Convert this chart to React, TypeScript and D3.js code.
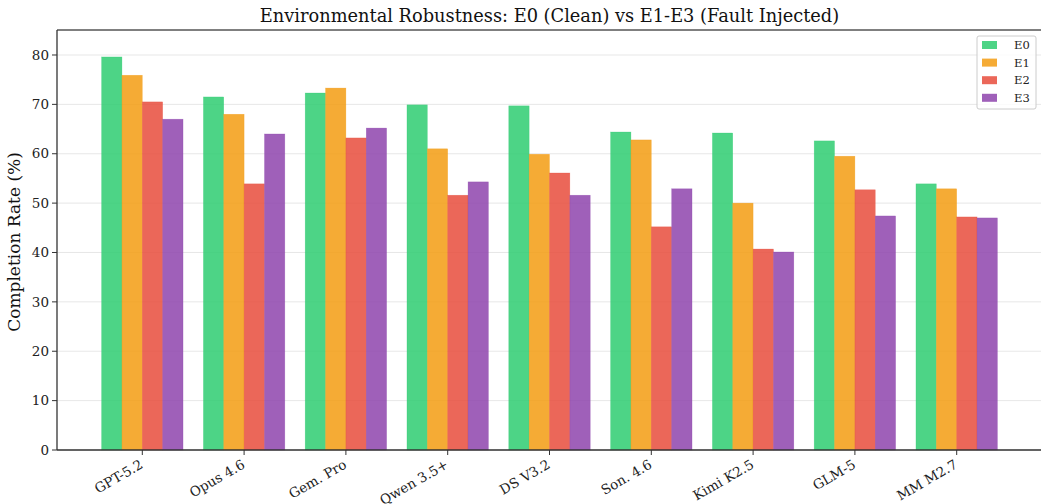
import React, { useEffect, useRef } from 'react';
import * as d3 from 'd3';

const models = ['GPT-5.2', 'Opus 4.6', 'Gem. Pro', 'Qwen 3.5+', 'DS V3.2', 'Son. 4.6', 'Kimi K2.5', 'GLM-5', 'MM M2.7'];
const seriesNames = ['E0', 'E1', 'E2', 'E3'];
const e0 = [79.6, 71.5, 72.3, 69.9, 69.7, 64.4, 64.2, 62.6, 53.9];
const e1 = [75.9, 68.0, 73.3, 61.0, 59.9, 62.8, 50.0, 59.5, 52.9];
const e2 = [70.5, 53.9, 63.2, 51.6, 56.1, 45.2, 40.7, 52.7, 47.2];
const e3 = [67.0, 64.0, 65.2, 54.3, 51.6, 52.9, 40.1, 47.4, 47.0];
const colors = ['#2ecc71', '#f39c12', '#e74c3c', '#8e44ad'];
const yTicks = [0, 10, 20, 30, 40, 50, 60, 70, 80];

const W = 1041;
const H = 504;

const App = () => {
  const svgRef = useRef(null);

  useEffect(() => {
    const svg = d3.select(svgRef.current);
    svg.selectAll('*').remove();

    const font = "'DejaVu Serif', serif";
    const left = 57, right = 1042, top = 30, bottom = 450;
    const series = [e0, e1, e2, e3];

    // index-based x scale, like matplotlib's bar positions
    const x = d3.scaleLinear().domain([-0.838, models.length - 1 + 0.838]).range([left, right]);
    const y = d3.scaleLinear().domain([0, 85.06]).range([bottom, top]);
    const bw = 0.2;

    // grid
    svg.append('g')
      .selectAll('line')
      .data(yTicks)
      .enter()
      .append('line')
      .attr('x1', left).attr('x2', right)
      .attr('y1', d => y(d)).attr('y2', d => y(d))
      .attr('stroke', '#b0b0b0')
      .attr('stroke-opacity', 0.3)
      .attr('stroke-width', 1);

    // bars
    series.forEach((vals, s) => {
      svg.append('g')
        .selectAll('rect')
        .data(vals)
        .enter()
        .append('rect')
        .attr('x', (d, i) => x(i + (s - 1.5) * bw - bw / 2))
        .attr('y', d => y(d))
        .attr('width', x(bw) - x(0))
        .attr('height', d => bottom - y(d))
        .attr('fill', colors[s])
        .attr('fill-opacity', 0.85)
        .attr('stroke', colors[s])
        .attr('stroke-opacity', 0.5)
        .attr('stroke-width', 0.5);
    });

    // spines
    svg.append('line').attr('x1', left).attr('x2', right).attr('y1', top).attr('y2', top)
      .attr('stroke', '#000').attr('stroke-width', 1);
    svg.append('line').attr('x1', left).attr('x2', left).attr('y1', top).attr('y2', bottom)
      .attr('stroke', '#333').attr('stroke-width', 1.3);
    svg.append('line').attr('x1', left).attr('x2', right).attr('y1', bottom).attr('y2', bottom)
      .attr('stroke', '#333').attr('stroke-width', 1.3);

    // y axis
    const yAxis = svg.append('g');
    yTicks.forEach(t => {
      yAxis.append('line').attr('x1', left - 5).attr('x2', left).attr('y1', y(t)).attr('y2', y(t))
        .attr('stroke', '#333').attr('stroke-width', 1);
      yAxis.append('text')
        .attr('x', left - 8).attr('y', y(t))
        .attr('dy', '0.35em')
        .attr('text-anchor', 'end')
        .attr('font-family', font).attr('font-size', 13.5)
        .attr('fill', '#222')
        .text(t);
    });

    // x axis, labels rotated 30deg and right-aligned on the tick
    const xAxis = svg.append('g');
    models.forEach((m, i) => {
      xAxis.append('line').attr('x1', x(i)).attr('x2', x(i)).attr('y1', bottom).attr('y2', bottom + 5)
        .attr('stroke', '#333').attr('stroke-width', 1);
      xAxis.append('text')
        .attr('transform', `translate(${x(i) - 3},${bottom + 9}) rotate(-30)`)
        .attr('text-anchor', 'end')
        .attr('dy', '0.7em')
        .attr('font-family', font).attr('font-size', 13.5)
        .attr('fill', '#222')
        .text(m);
    });

    // labels
    svg.append('text')
      .attr('transform', `translate(20,${(top + bottom) / 2 + 2}) rotate(-90)`)
      .attr('text-anchor', 'middle')
      .attr('font-family', font).attr('font-size', 17)
      .attr('fill', '#111')
      .text('Completion Rate (%)');

    svg.append('text')
      .attr('x', (left + right) / 2).attr('y', 22)
      .attr('text-anchor', 'middle')
      .attr('font-family', font).attr('font-size', 17.8)
      .attr('fill', '#111')
      .text('Environmental Robustness: E0 (Clean) vs E1-E3 (Fault Injected)');

    // legend
    const lg = svg.append('g').attr('transform', 'translate(977,36)');
    lg.append('rect').attr('width', 59).attr('height', 73).attr('rx', 2)
      .attr('fill', '#fff').attr('fill-opacity', 0.8)
      .attr('stroke', '#ccc').attr('stroke-width', 1);
    seriesNames.forEach((n, s) => {
      lg.append('rect').attr('x', 5).attr('y', 5 + s * 17.6).attr('width', 15).attr('height', 8)
        .attr('fill', colors[s]).attr('fill-opacity', 0.85);
      lg.append('text').attr('x', 37).attr('y', 9 + s * 17.6).attr('dy', '0.35em')
        .attr('font-family', font).attr('font-size', 11.5).attr('fill', '#222')
        .text(n);
    });
  }, []);

  return (
    <svg ref={svgRef} width={W} height={H} style={{ position: 'absolute', left: 0, top: 0, background: '#fff' }}></svg>
  );
};

export default App;
